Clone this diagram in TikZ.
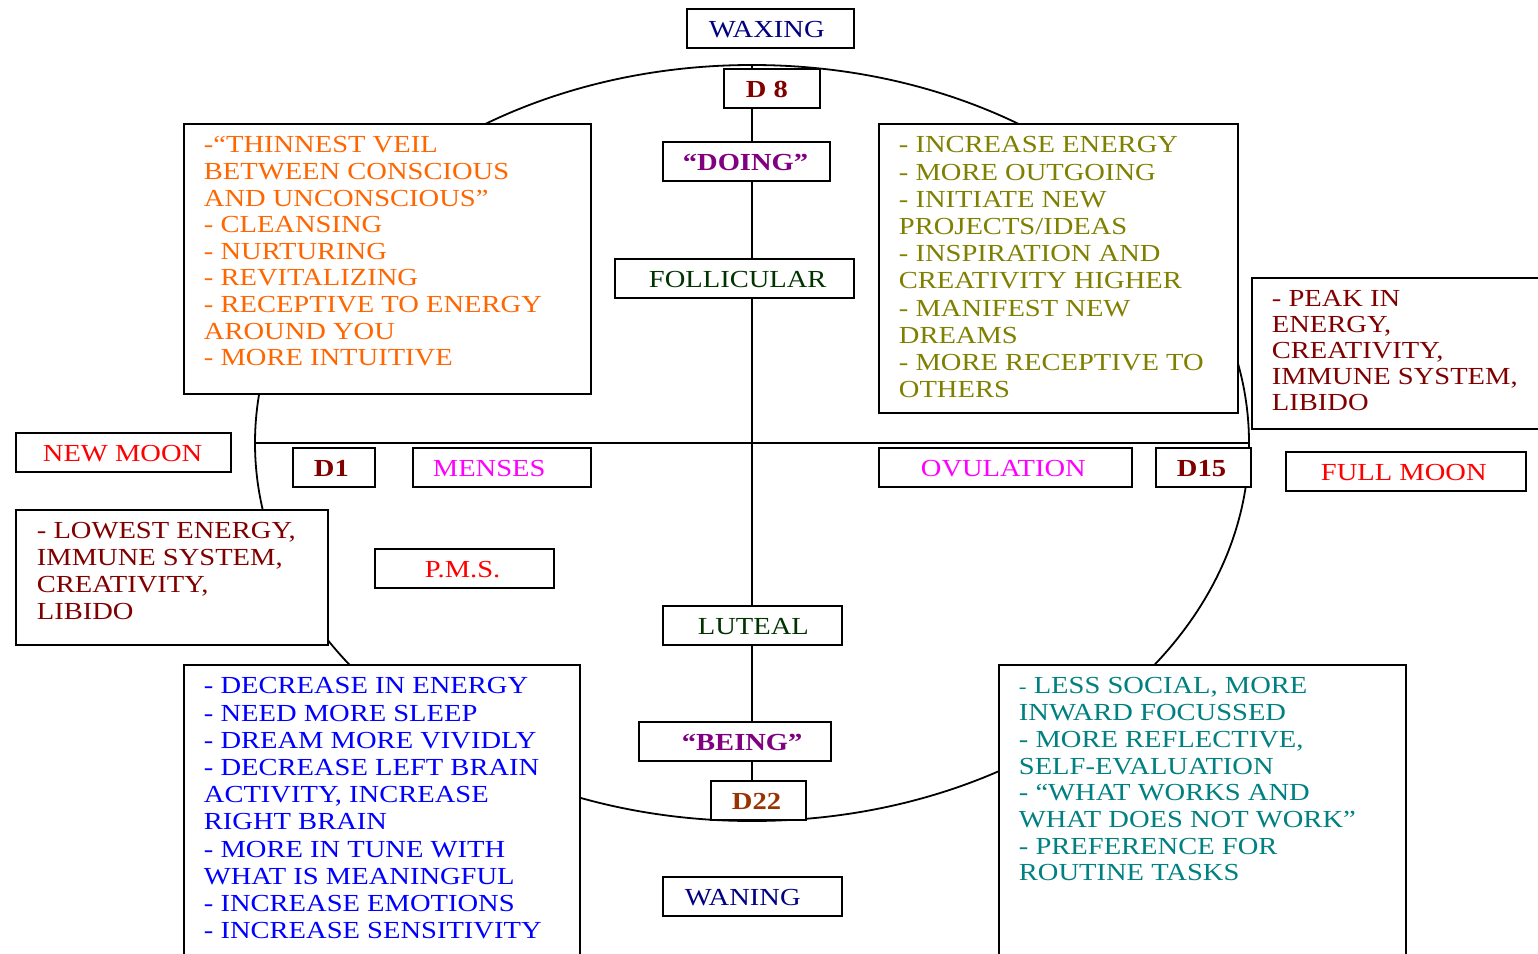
\documentclass[tikz,border=0pt]{standalone}
\usepackage{fontspec}
\setmainfont{Liberation Serif}[FakeStretch=1.165]
\definecolor{navy}{RGB}{0,0,128}
\definecolor{dred}{RGB}{128,0,0}
\definecolor{purp}{RGB}{128,0,128}
\definecolor{dgreen}{RGB}{0,51,0}
\definecolor{orng}{RGB}{255,102,0}
\definecolor{olive}{RGB}{128,128,0}
\definecolor{brwn}{RGB}{153,51,0}
\definecolor{tealc}{RGB}{0,128,128}
\definecolor{magc}{RGB}{255,0,255}
\definecolor{redc}{RGB}{255,0,0}
\definecolor{bluec}{RGB}{0,0,255}
\newcommand{\sltext}[3]{\makebox[#1pt][l]{\hspace*{#2pt}#3}}
\newcommand{\mltext}[4]{\hspace*{#2pt}\parbox[t]{\dimexpr#1pt-#2pt\relax}{\fontsize{24.5}{#3}\selectfont\raggedright #4}}
\tikzset{
  sbox/.style={draw, fill=white, line width=1.8pt, inner sep=0pt, anchor=north west,
    text height=29pt, text depth=10pt, font=\fontsize{24.5}{27}\selectfont},
  mbox/.style={draw, fill=white, line width=1.8pt, inner sep=0pt, anchor=north west,
    text height=29pt, text depth=#1, font=\fontsize{24.5}{27}\selectfont},
  axis/.style={line width=1.8pt}
}
\begin{document}
\begin{tikzpicture}[x=1pt,y=-1pt]
\useasboundingbox (0,0) rectangle (1538,953);
\clip (0,0) rectangle (1538,953);
\fill[white] (0,0) rectangle (1538,953);
% cycle
\coordinate (top) at (752,65);
\coordinate (bot) at (752,821);
\coordinate (lft) at (255,443);
\coordinate (rgt) at (1249,443);
\draw[axis] (752,443) ellipse [x radius=497, y radius=378];
\draw[axis] (top) -- (bot);
\draw[axis] (lft) -- (rgt);
% single-line boxes
\node[sbox, text=navy] (waxing) at (686,8) {\sltext{167}{22}{WAXING}};
\node[sbox, text=dred] (d8) at (723,68) {\sltext{96}{22}{\bfseries D 8}};
\node[sbox, text=purp] (doing) at (662,141) {\sltext{167}{20}{\bfseries “DOING”}};
\node[sbox, text=dgreen] (foll) at (614,258) {\sltext{239}{34}{FOLLICULAR}};
\node[sbox, text=redc] (newmoon) at (15,432) {\sltext{215}{27}{NEW MOON}};
\node[sbox, text=dred] (d1) at (292,447) {\sltext{82}{21}{\bfseries D1}};
\node[sbox, text=magc] (menses) at (412,447) {\sltext{178}{20}{MENSES}};
\node[sbox, text=magc] (ovul) at (878,447) {\sltext{253}{42}{OVULATION}};
\node[sbox, text=dred] (d15) at (1155,447) {\sltext{95}{21}{\bfseries D15}};
\node[sbox, text=redc] (fullmoon) at (1285,451) {\sltext{240}{35}{FULL MOON}};
\node[sbox, text=redc] (pms) at (374,548) {\sltext{179}{50}{P.M.S.}};
\node[sbox, text=dgreen] (luteal) at (662,605) {\sltext{179}{35}{LUTEAL}};
\node[sbox, text=purp] (being) at (638,721) {\sltext{192}{43}{\bfseries “BEING”}};
\node[sbox, text=brwn] (d22) at (710,780) {\sltext{95}{21}{\bfseries D22}};
\node[sbox, text=navy] (waning) at (662,876) {\sltext{179}{22}{WANING}};
% multi-line boxes
\node[mbox=241pt, text=orng] (veil) at (183,123) {\mltext{407}{20}{26.6}{-“THINNEST VEIL\\BETWEEN CONSCIOUS\\AND UNCONSCIOUS”\\- CLEANSING\\- NURTURING\\- REVITALIZING\\- RECEPTIVE TO ENERGY\\AROUND YOU\\- MORE INTUITIVE}};
\node[mbox=260pt, text=olive] (energy) at (878,123) {\mltext{359}{20}{27.2}{- INCREASE ENERGY\\- MORE OUTGOING\\- INITIATE NEW\\PROJECTS/IDEAS\\- INSPIRATION AND\\CREATIVITY HIGHER\\- MANIFEST NEW\\DREAMS\\- MORE RECEPTIVE TO\\OTHERS}};
\node[mbox=122pt, text=dred] (peak) at (1251,277) {\mltext{320}{20}{25.8}{- PEAK IN\\ENERGY,\\CREATIVITY,\\IMMUNE SYSTEM,\\LIBIDO}};
\node[mbox=106pt, text=dred] (lowest) at (15,509) {\mltext{312}{21}{27}{- LOWEST ENERGY,\\IMMUNE SYSTEM,\\CREATIVITY,\\LIBIDO}};
\node[mbox=297pt, text=bluec] (waningtxt) at (183,664) {\mltext{396}{20}{27.2}{- DECREASE IN ENERGY\\- NEED MORE SLEEP\\- DREAM MORE VIVIDLY\\- DECREASE LEFT BRAIN\\ACTIVITY, INCREASE\\RIGHT BRAIN\\- MORE IN TUNE WITH\\WHAT IS MEANINGFUL\\- INCREASE EMOTIONS\\- INCREASE SENSITIVITY}};
\node[mbox=297pt, text=tealc] (inward) at (998,664) {\mltext{407}{20}{26.7}{{\fontsize{20}{20}\selectfont -} LESS SOCIAL, MORE\\INWARD FOCUSSED\\- MORE REFLECTIVE,\\SELF-EVALUATION\\- “WHAT WORKS AND\\WHAT DOES NOT WORK”\\- PREFERENCE FOR\\ROUTINE TASKS}};
\end{tikzpicture}
\end{document}
